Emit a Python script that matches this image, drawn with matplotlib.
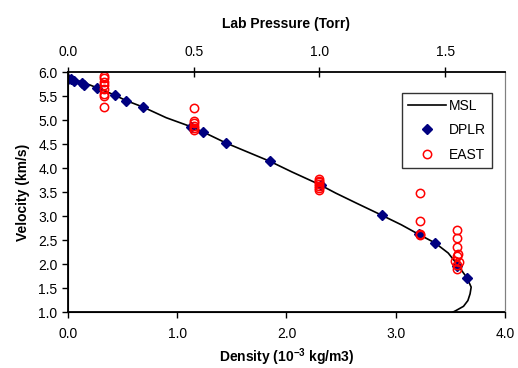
import matplotlib
matplotlib.use("Agg")
import matplotlib.pyplot as plt

plt.rcParams['font.family'] = ['Liberation Sans', 'DejaVu Sans']
plt.rcParams['mathtext.fontset'] = 'custom'
plt.rcParams['mathtext.rm'] = 'Liberation Sans:bold'
plt.rcParams['mathtext.bf'] = 'Liberation Sans:bold'
plt.rcParams['mathtext.default'] = 'rm'

# MSL trajectory (density 1e-3 kg/m3, velocity km/s)
msl_density = [0.0, 0.05, 0.15, 0.27, 0.43, 0.53, 0.69, 0.90, 1.13, 1.24, 1.45, 1.65,
               1.85, 2.05, 2.30, 2.45, 2.64, 2.87, 3.05, 3.21, 3.36, 3.48, 3.56, 3.65,
               3.69, 3.68, 3.66, 3.62, 3.55, 3.48]
msl_velocity = [5.88, 5.85, 5.78, 5.67, 5.52, 5.41, 5.27, 5.05, 4.86, 4.75, 4.52, 4.33,
                4.14, 3.92, 3.66, 3.48, 3.27, 3.02, 2.82, 2.62, 2.44, 2.23, 2.00, 1.72,
                1.52, 1.38, 1.24, 1.12, 1.03, 0.95]

# DPLR points
dplr_density = [0.00, 0.03, 0.06, 0.13, 0.15, 0.27, 0.43, 0.53, 0.69, 1.13, 1.24, 1.45,
                1.85, 2.32, 2.87, 3.21, 3.36, 3.56, 3.65]
dplr_velocity = [5.85, 5.85, 5.81, 5.77, 5.73, 5.67, 5.52, 5.40, 5.27, 4.85, 4.75, 4.52,
                 4.14, 3.64, 3.02, 2.62, 2.44, 1.96, 1.71]

# EAST points
east_density = [0.33, 0.33, 0.33, 0.33, 0.33, 0.33, 0.33, 0.33,
                1.15, 1.15, 1.15, 1.15, 1.15, 1.15,
                2.30, 2.30, 2.30, 2.30, 2.30, 2.30, 2.30,
                3.22, 3.22, 3.22, 3.22,
                3.56, 3.56, 3.56, 3.57, 3.56, 3.54, 3.58, 3.56, 3.56]
east_velocity = [5.92, 5.87, 5.80, 5.73, 5.65, 5.55, 5.50, 5.28,
                 5.25, 4.98, 4.93, 4.88, 4.84, 4.80,
                 3.78, 3.74, 3.70, 3.66, 3.62, 3.58, 3.55,
                 3.48, 2.90, 2.63, 2.60,
                 2.71, 2.54, 2.35, 2.21, 2.17, 2.06, 2.04, 1.98, 1.90]

x_ticks = [0.0, 1.0, 2.0, 3.0, 4.0]
y_ticks = [1.0, 1.5, 2.0, 2.5, 3.0, 3.5, 4.0, 4.5, 5.0, 5.5, 6.0]
torr_ticks = [0.0, 0.5, 1.0, 1.5]
torr_per_density = 0.4345

fig = plt.figure(figsize=(5.18, 3.68), dpi=100)
ax = fig.add_axes([0.131, 0.152, 0.844, 0.652])

ax.plot(msl_density, msl_velocity, color='black', lw=1.2, label='MSL', zorder=2)
ax.plot(dplr_density, dplr_velocity, linestyle='none', marker='D', ms=5.5,
        color='#000080', mec='#000080', label='DPLR', zorder=3)
ax.plot(east_density, east_velocity, linestyle='none', marker='o', ms=6,
        mfc='none', mec='#ff0000', mew=1.1, label='EAST', zorder=4)

ax.set_xlim(0, 4.0)
ax.set_ylim(1.0, 6.0)
ax.set_xticks(x_ticks)
ax.set_xticklabels([f"{v:.1f}" for v in x_ticks])
ax.set_yticks(y_ticks)
ax.set_yticklabels([f"{v:.1f}" for v in y_ticks])
ax.tick_params(axis='both', labelsize=10, direction='out', length=4, width=1)
ax.tick_params(axis='x', pad=7)
ax.spines['right'].set_color('#808080')
ax.spines['top'].set_visible(False)
ax.spines['left'].set_linewidth(1.3)
ax.spines['bottom'].set_linewidth(1.3)

ax.set_xlabel(r'Density (10$^{-3}$ kg/m3)', fontsize=10, fontweight='bold', labelpad=4)
ax.set_ylabel('Velocity (km/s)', fontsize=10, fontweight='bold', labelpad=6)

ax2 = ax.twiny()
ax2.set_xlim(0, 4.0 * torr_per_density)
ax2.set_xticks(torr_ticks)
ax2.set_xticklabels([f"{v:.1f}" for v in torr_ticks])
ax2.tick_params(axis='x', labelsize=10, direction='inout', length=7, width=1, pad=6)
ax2.spines['top'].set_linewidth(1.3)
ax2.spines['right'].set_color('#808080')
ax2.set_xlabel('Lab Pressure (Torr)', fontsize=10, fontweight='bold', labelpad=12)

leg = ax.legend(loc='upper right', bbox_to_anchor=(0.97, 0.915), frameon=True,
                fancybox=False, edgecolor='black', fontsize=10, handlelength=2.7,
                borderpad=0.45, labelspacing=0.75, handletextpad=0.2, borderaxespad=0)
leg.get_frame().set_linewidth(1.0)

fig.savefig('out.png', dpi=100)
